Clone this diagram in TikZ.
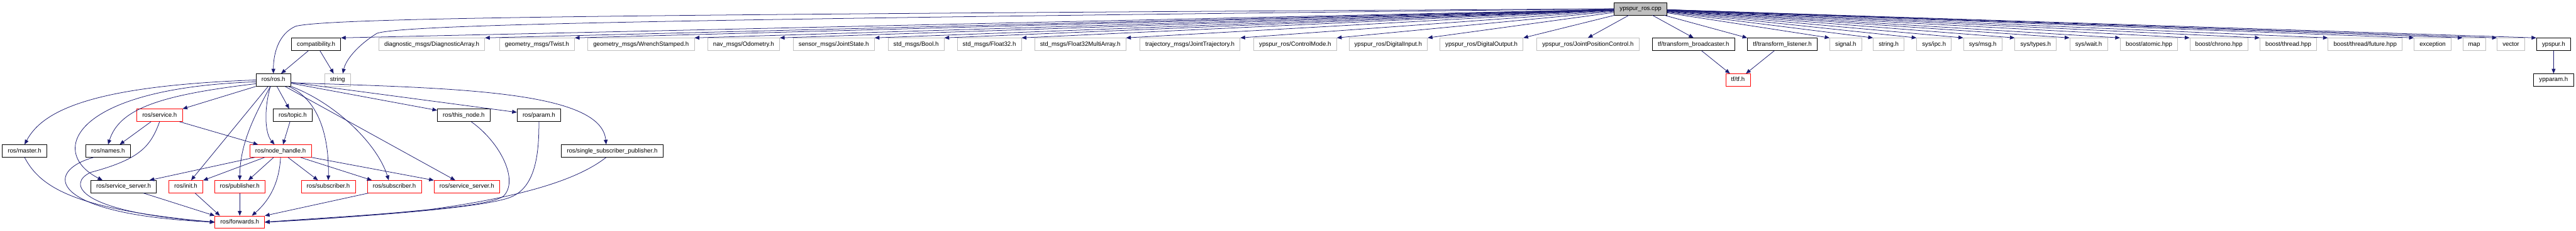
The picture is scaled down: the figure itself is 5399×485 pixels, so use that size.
\documentclass[tikz,border=0pt]{standalone}
\usepackage{fontspec}
\setsansfont{Liberation Sans}
\usetikzlibrary{arrows.meta}
\definecolor{cedge}{HTML}{191970}
\definecolor{cgrey}{HTML}{BFBFBF}
\definecolor{cred}{HTML}{FF0000}
\tikzset{
  every picture/.style={font=\sffamily\fontsize{9.6}{11}\selectfont, line width=0.75pt},
  hdr/.style={draw=#1, rectangle, inner xsep=8.6pt, inner ysep=0pt, minimum height=19.5pt, text height=7pt, text depth=2pt},
  hdr/.default=black,
  arrow/.style={-{Triangle[length=7.5pt, width=6pt]}, draw=cedge, line width=0.75pt},
}
\begin{document}
\begin{tikzpicture}[x=0.75pt, y=-0.75pt,
  ext/.style={hdr=cgrey},
  cut/.style={hdr=cred},
  root/.style={hdr=black, fill=cgrey}]
  \useasboundingbox (0,0) rectangle (5399,485);
  \node[root] (cpp) at (3438.5,18.5) {ypspur\_ros.cpp};
  \node[hdr] (compat) at (662.5,93) {compatibility.h};
  \node[ext] (diag) at (905,93) {diagnostic\_msgs/DiagnosticArray.h};
  \node[ext] (twist) at (1125.5,93) {geometry\_msgs/Twist.h};
  \node[ext] (wrench) at (1343.5,93) {geometry\_msgs/WrenchStamped.h};
  \node[ext] (odom) at (1558.5,93) {nav\_msgs/Odometry.h};
  \node[ext] (jstate) at (1747.5,93) {sensor\_msgs/JointState.h};
  \node[ext] (boolh) at (1920,93) {std\_msgs/Bool.h};
  \node[ext] (float) at (2073.5,93) {std\_msgs/Float32.h};
  \node[ext] (farray) at (2264,93) {std\_msgs/Float32MultiArray.h};
  \node[ext] (jtraj) at (2494,93) {trajectory\_msgs/JointTrajectory.h};
  \node[ext] (cmode) at (2714.5,93) {ypspur\_ros/ControlMode.h};
  \node[ext] (din) at (2909.5,93) {ypspur\_ros/DigitalInput.h};
  \node[ext] (dout) at (3105,93) {ypspur\_ros/DigitalOutput.h};
  \node[ext] (jpos) at (3328,93) {ypspur\_ros/JointPositionControl.h};
  \node[hdr] (tfb) at (3549.5,93) {tf/transform\_broadcaster.h};
  \node[hdr] (tfl) at (3735.5,93) {tf/transform\_listener.h};
  \node[ext] (signal) at (3868.5,93) {signal.h};
  \node[ext] (strh) at (3958.5,93) {string.h};
  \node[ext] (ipc) at (4053.5,93) {sys/ipc.h};
  \node[ext] (msg) at (4155.5,93) {sys/msg.h};
  \node[ext] (types) at (4266.5,93) {sys/types.h};
  \node[ext] (wait) at (4377.5,93) {sys/wait.h};
  \node[ext] (atomic) at (4504,93) {boost/atomic.hpp};
  \node[ext] (chrono) at (4650.5,93) {boost/chrono.hpp};
  \node[ext] (thread) at (4796,93) {boost/thread.hpp};
  \node[ext] (future) at (4957,93) {boost/thread/future.hpp};
  \node[ext] (except) at (5098.5,93) {exception};
  \node[ext] (map) at (5185.5,93) {map};
  \node[ext] (vector) at (5262.5,93) {vector};
  \node[hdr] (ypspur) at (5352,93) {ypspur.h};
  \node[hdr] (ros) at (573,168) {ros/ros.h};
  \node[ext] (stringstd) at (707.5,168) {string};
  \node[cut] (tf) at (3642.5,168) {tf/tf.h};
  \node[hdr] (ypparam) at (5352,168) {ypparam.h};
  \node[cut] (service) at (334.5,242) {ros/service.h};
  \node[hdr] (topic) at (613.5,242) {ros/topic.h};
  \node[hdr] (thisnode) at (972,242) {ros/this\_node.h};
  \node[hdr] (param) at (1129.5,242) {ros/param.h};
  \node[hdr] (master) at (51.5,317) {ros/master.h};
  \node[hdr] (names) at (226.5,317) {ros/names.h};
  \node[cut] (nh) at (588,317) {ros/node\_handle.h};
  \node[hdr] (single) at (1283,317) {ros/single\_subscriber\_publisher.h};
  \node[hdr] (sserv) at (259,392) {ros/service\_server.h};
  \node[cut] (init) at (389.5,392) {ros/init.h};
  \node[cut] (pub) at (502.5,392) {ros/publisher.h};
  \node[cut] (sub1) at (688,392) {ros/subscriber.h};
  \node[cut] (sub2) at (826.5,392) {ros/subscriber.h};
  \node[cut] (sservr) at (978.5,392) {ros/service\_server.h};
  \node[cut] (fwd) at (502.5,466.5) {ros/forwards.h};
  \foreach \n in {compat, diag, twist, wrench, odom, jstate, boolh, float, farray, jtraj, cmode, din, dout}
    \draw[arrow] (cpp) -- (\n.north east);
  \foreach \n in {jpos, tfb}
    \draw[arrow] (cpp) -- (\n.north);
  \foreach \n in {tfl, signal, strh, ipc, msg, types, wait, atomic, chrono, thread, future, except, map, vector, ypspur}
    \draw[arrow] (cpp) -- (\n.north west);
  \draw[arrow] (cpp.west) .. controls (1500,30) and (700,35) .. (620,55) .. controls (585,70) and (573,110) .. (ros.north);
  \draw[arrow] (cpp.west) .. controls (1500,40) and (850,50) .. (790,70) .. controls (750,95) and (725,125) .. (stringstd.51);
  \foreach \a/\b in {compat/ros, compat/stringstd, ros/topic, ros/init, ros/sservr, ros/thisnode, ros/param, pub/fwd, tfb/tf, tfl/tf, ypspur/ypparam}
    \draw[arrow] (\a) -- (\b);
  \draw[arrow] (ros.west) .. controls (200,180) and (90,230) .. (master.north);
  \draw[arrow] (ros.192) .. controls (330,200) and (250,230) .. (names.north);
  \draw[arrow] (ros.186) .. controls (150,185) and (100,320) .. (sserv.163);
  \draw[arrow] (ros.south west) -- (service.north east);
  \draw[arrow] (ros.-115) .. controls (553,230) and (555,280) .. (nh.133);
  \draw[arrow] (ros.-115) .. controls (535,240) and (503,300) .. (pub.north);
  \draw[arrow] (ros.-23) .. controls (670,210) and (690,290) .. (sub1.north);
  \draw[arrow] (ros.-20) .. controls (700,215) and (790,300) .. (sub2.131);
  \draw[arrow] (ros.-9) .. controls (950,185) and (1260,190) .. (single.133);
  \draw[arrow] (service.-143) -- (names.29);
  \draw[arrow] (service.-18) -- (nh.164);
  \draw[arrow] (service.south) .. controls (315,310) and (290,335) .. (190,362) .. controls (140,385) and (160,445) .. (fwd.west);
  \draw[arrow] (master.south) .. controls (85,395) and (160,440) .. (fwd.west);
  \draw[arrow] (names.-156) .. controls (90,360) and (100,450) .. (fwd.west);
  \draw[arrow] (topic.-113) -- (nh.69);
  \draw[arrow] (nh.-166) -- (sserv.14);
  \draw[arrow] (nh.-158) -- (init.20);
  \draw[arrow] (nh.-137) -- (pub.37);
  \draw[arrow] (nh.-41) -- (sub1.148);
  \draw[arrow] (nh.-18) -- (sub2.164);
  \draw[arrow] (nh.south east) -- (sservr.169);
  \draw[arrow] (nh.south) .. controls (585,390) and (560,425) .. (fwd.28);
  \draw[arrow] (sserv.-18) -- (fwd.north west);
  \draw[arrow] (init.-35) -- (fwd.162);
  \draw[arrow] (sub2.-166) -- (fwd.north east);
  \draw[arrow] (thisnode.-41) .. controls (1050,300) and (1088,380) .. (1055,412) .. controls (1020,440) and (700,455) .. (fwd.east);
  \draw[arrow] (param.south) .. controls (1130,330) and (1120,390) .. (1075,412) .. controls (1020,439) and (700,458) .. (fwd.east);
  \draw[arrow] (single.-133) .. controls (1220,370) and (1120,410) .. (900,440) .. controls (750,455) and (650,462) .. (fwd.east);
\end{tikzpicture}
\end{document}
